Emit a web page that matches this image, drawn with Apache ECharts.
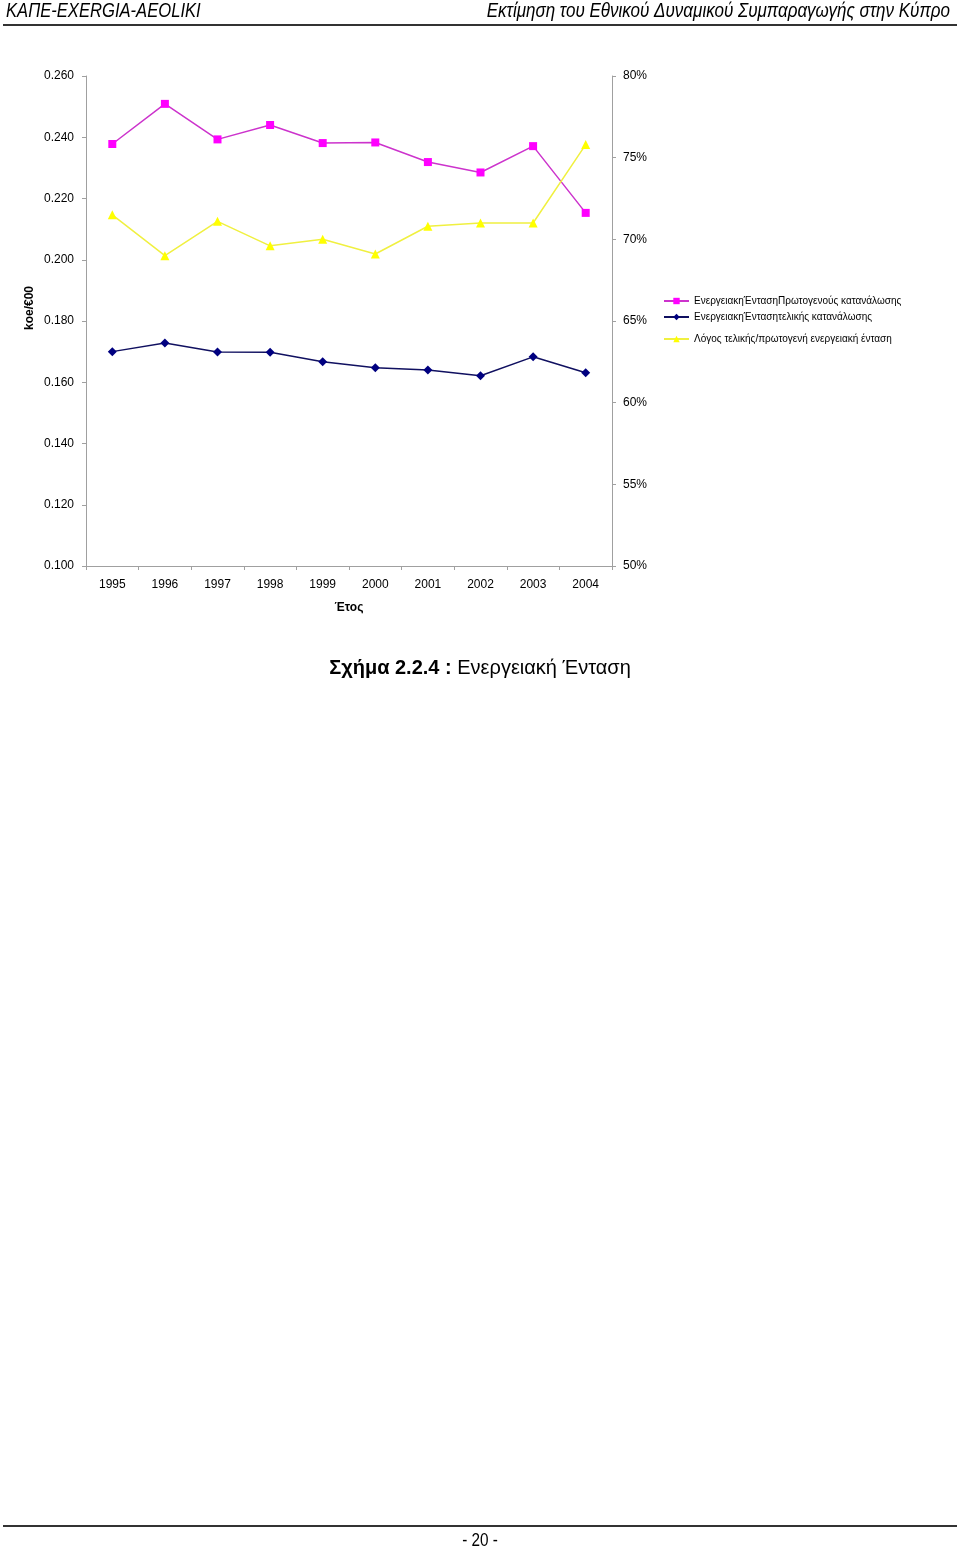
<!DOCTYPE html>
<html>
<head>
<meta charset="utf-8">
<script src="https://cdn.jsdelivr.net/npm/echarts@6/dist/echarts.min.js"></script>
<style>
html,body{margin:0;padding:0;background:#fff;}
#chart{width:960px;height:1548px;}
</style>
</head>
<body>
<div id="chart"></div>
<script>
const years = ['1995','1996','1997','1998','1999','2000','2001','2002','2003','2004'];
const primaryIntensity = [0.2378,0.2509,0.2393,0.2440,0.2381,0.2383,0.2319,0.2285,0.2371,0.2153];
const finalIntensity = [0.1700,0.1728,0.1699,0.1698,0.1667,0.1647,0.1640,0.1621,0.1683,0.1631];
const ratioPercent = [71.5,69.0,71.1,69.6,70.0,69.1,70.8,71.0,71.0,75.8];
const seriesNames = ['ΕνεργειακηΈντασηΠρωτογενούς κατανάλωσης','ΕνεργειακηΈντασητελικής κατανάλωσης','Λόγος τελικής/πρωτογενή ενεργειακή ένταση'];
const headerLeft = 'ΚΑΠΕ-EXERGIA-AEOLIKI';
const headerRight = 'Εκτίμηση του Εθνικού Δυναμικού Συμπαραγωγής στην Κύπρο';
const yAxisTitle = 'koe/€00';
const xAxisTitle = 'Έτος';
const captionBold = 'Σχήμα 2.2.4 :';
const captionText = ' Ενεργειακή Ένταση';
const pageNumber = '- 20 -';

const FONT = '"Liberation Sans", Arial, sans-serif';
const chart = echarts.init(document.getElementById('chart'), null, {renderer:'canvas'});

function legendAt(name, top){
  return {
    data:[name], left:663, top:top, orient:'vertical', padding:0,
    itemWidth:25, itemHeight:8, itemGap:0,
    textStyle:{fontFamily:FONT, fontSize:10, color:'#000', lineHeight:14},
    selectedMode:false
  };
}

chart.setOption({
  animation:false,
  backgroundColor:'#fff',
  grid:{left:86, right:348, top:76, bottom:982, containLabel:false},
  legend:[legendAt(seriesNames[0],294), legendAt(seriesNames[1],310), legendAt(seriesNames[2],332)],
  xAxis:{
    type:'category', data:years, boundaryGap:true,
    name:xAxisTitle, nameLocation:'middle', nameGap:36,
    nameTextStyle:{fontFamily:FONT, fontSize:12, fontWeight:'bold', color:'#000'},
    axisLine:{lineStyle:{color:'#a0a0a0', width:1}},
    axisTick:{show:true, length:4, lineStyle:{color:'#a0a0a0'}},
    axisLabel:{fontFamily:FONT, fontSize:12, color:'#000', margin:13},
    splitLine:{show:false}
  },
  yAxis:[
    {
      type:'value', min:0.1, max:0.26, interval:0.02, position:'left',
      axisLine:{show:true, lineStyle:{color:'#a0a0a0', width:1}},
      axisTick:{show:true, length:4, lineStyle:{color:'#a0a0a0'}},
      axisLabel:{fontFamily:FONT, fontSize:12, color:'#000', margin:12, formatter:v=>v.toFixed(3)},
      splitLine:{show:false}
    },
    {
      type:'value', min:50, max:80, interval:5, position:'right',
      axisLine:{show:true, lineStyle:{color:'#a0a0a0', width:1}},
      axisTick:{show:true, length:4, lineStyle:{color:'#a0a0a0'}},
      axisLabel:{fontFamily:FONT, fontSize:12, color:'#000', margin:11, formatter:'{value}%'},
      splitLine:{show:false}
    }
  ],
  series:[
    {
      name:seriesNames[0], type:'line', yAxisIndex:0, data:primaryIntensity,
      symbol:'rect', symbolSize:8,
      lineStyle:{color:'#cc33cc', width:1.5},
      itemStyle:{color:'#ff00ff'}
    },
    {
      name:seriesNames[1], type:'line', yAxisIndex:0, data:finalIntensity,
      symbol:'diamond', symbolSize:9,
      lineStyle:{color:'#101060', width:1.5},
      itemStyle:{color:'#000080'}
    },
    {
      name:seriesNames[2], type:'line', yAxisIndex:1, data:ratioPercent,
      symbol:'triangle', symbolSize:9,
      lineStyle:{color:'#f0f040', width:1.5},
      itemStyle:{color:'#ffff00'}
    }
  ],
  graphic:[
    {type:'text', x:6, y:11, scaleX:0.83, style:{text:headerLeft, font:'italic 20px '+FONT, fill:'#000', align:'left', verticalAlign:'middle'}},
    {type:'text', x:950, y:11, scaleX:0.85, style:{text:headerRight, font:'italic 20px '+FONT, fill:'#000', align:'right', verticalAlign:'middle'}},
    {type:'line', shape:{x1:3, y1:25, x2:957, y2:25}, style:{stroke:'#333', lineWidth:2}},
    {type:'text', x:30, y:308, rotation:Math.PI/2, style:{text:yAxisTitle, font:'bold 12px '+FONT, fill:'#000', align:'center', verticalAlign:'middle'}},
    {type:'text', x:480, y:668, style:{
      text:'{b|'+captionBold+'}{n|'+captionText+'}', align:'center', verticalAlign:'middle',
      rich:{b:{fontFamily:FONT, fontSize:20, fontWeight:'bold', fill:'#000'}, n:{fontFamily:FONT, fontSize:20, fill:'#000'}}
    }},
    {type:'line', shape:{x1:3, y1:1526, x2:957, y2:1526}, style:{stroke:'#333', lineWidth:2}},
    {type:'text', x:480, y:1541, scaleX:0.85, style:{text:pageNumber, font:'18px '+FONT, fill:'#000', align:'center', verticalAlign:'middle'}}
  ]
});
</script>
</body>
</html>
